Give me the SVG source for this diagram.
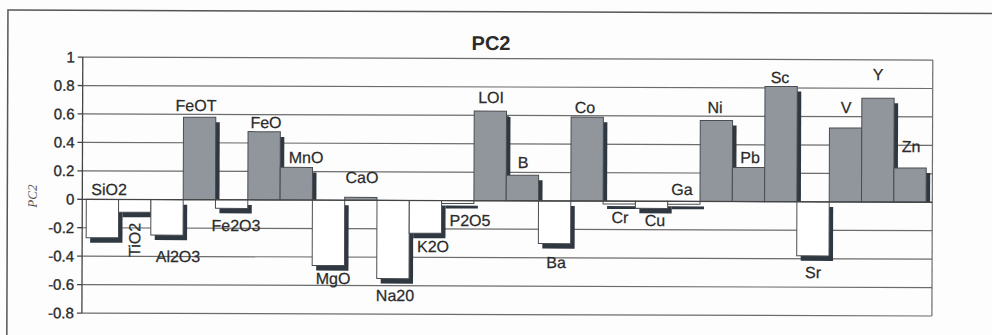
<svg xmlns="http://www.w3.org/2000/svg" width="992" height="335" viewBox="0 0 992 335">
<style>
.grid{stroke:#6c6c6c;stroke-width:1.2;fill:none}
.axis{stroke:#444;stroke-width:1.3;fill:none}
.pos{fill:#90969c;stroke:#4a4d52;stroke-width:1}
.neg{fill:#ffffff;stroke:#4a4d52;stroke-width:1}
.sh{fill:#2f3841}
.lbl{font-family:"Liberation Sans",Arial,sans-serif;font-size:16px;fill:#2b2b2b;text-anchor:middle;stroke:#2b2b2b;stroke-width:0.25}
.tick{font-family:"Liberation Sans",Arial,sans-serif;font-size:15px;fill:#2b2b2b;text-anchor:end;stroke:#2b2b2b;stroke-width:0.35}
.title{font-family:"Liberation Sans",Arial,sans-serif;font-size:20px;font-weight:bold;fill:#2b2b2b;text-anchor:middle}
.ytitle{font-family:"Liberation Serif","Times New Roman",serif;font-size:13px;font-style:italic;fill:#555;text-anchor:middle}
</style>
<rect x="0" y="0" width="992" height="335" fill="#fdfdfd"/>
<g transform="rotate(0.2)">
<rect x="8" y="10" width="1200" height="500" fill="none" stroke="#555" stroke-width="1.5"/>
<text class="title" x="491.2" y="48.3">PC2</text>
<text class="ytitle" transform="translate(37.5,196) rotate(-90)">PC2</text>
<g id="gridlines">
<line class="grid" x1="83" y1="56.8" x2="933" y2="56.8"/>
<line class="grid" x1="83" y1="85.24" x2="933" y2="85.24"/>
<line class="grid" x1="83" y1="113.68" x2="933" y2="113.68"/>
<line class="grid" x1="83" y1="142.12" x2="933" y2="142.12"/>
<line class="grid" x1="83" y1="170.56" x2="933" y2="170.56"/>
<line class="grid" x1="83" y1="227.44" x2="933" y2="227.44"/>
<line class="grid" x1="83" y1="255.88" x2="933" y2="255.88"/>
<line class="grid" x1="83" y1="284.32" x2="933" y2="284.32"/>
<line class="grid" x1="83" y1="312.76" x2="933" y2="312.76"/>
<line class="grid" x1="933" y1="56.8" x2="933" y2="312.76"/>
</g>
<g id="yaxis">
<line class="axis" x1="83" y1="56.8" x2="83" y2="312.76"/>
<path class="axis" d="M78 56.8H83M78 85.24H83M78 113.68H83M78 142.12H83M78 170.56H83M78 199H83M78 227.44H83M78 255.88H83M78 284.32H83M78 312.76H83"/>
<text class="tick" x="75" y="62.1">1</text>
<text class="tick" x="75" y="90.5">0.8</text>
<text class="tick" x="75" y="119">0.6</text>
<text class="tick" x="75" y="147.4">0.4</text>
<text class="tick" x="75" y="175.9">0.2</text>
<text class="tick" x="75" y="204.3">0</text>
<text class="tick" x="75" y="232.7">-0.2</text>
<text class="tick" x="75" y="261.2">-0.4</text>
<text class="tick" x="75" y="289.6">-0.6</text>
<text class="tick" x="75" y="318">-0.8</text>
</g>
<g id="bar-SiO2"><rect class="sh" x="91" y="204" width="32.3" height="38.39"/><rect class="neg" x="87" y="199" width="32.3" height="38.39"/><text class="lbl" x="109.7" y="194.6">SiO2</text></g>
<g id="bar-TiO2"><rect class="sh" x="123.3" y="204" width="32.3" height="12.8"/><rect class="neg" x="119.3" y="199" width="32.3" height="12.8"/><text class="lbl" transform="translate(141,239.5) rotate(-90)">TiO2</text></g>
<g id="bar-Al2O3"><rect class="sh" x="155.6" y="204" width="32.3" height="35.55"/><rect class="neg" x="151.6" y="199" width="32.3" height="35.55"/><text class="lbl" x="178.9" y="261.4">Al2O3</text></g>
<g id="bar-FeOT"><rect class="sh" x="187.9" y="121.52" width="32.3" height="77.48"/><rect class="pos" x="183.9" y="116.52" width="32.3" height="82.48"/><text class="lbl" x="196.4" y="110.3">FeOT</text></g>
<g id="bar-Fe2O3"><rect class="sh" x="220.2" y="204" width="32.3" height="8.53"/><rect class="neg" x="216.2" y="199" width="32.3" height="8.53"/><text class="lbl" x="236.8" y="230.2">Fe2O3</text></g>
<g id="bar-FeO"><rect class="sh" x="252.5" y="135.74" width="32.3" height="63.26"/><rect class="pos" x="248.5" y="130.74" width="32.3" height="68.26"/><text class="lbl" x="266.4" y="127.1">FeO</text></g>
<g id="bar-MnO"><rect class="sh" x="284.8" y="171.29" width="32.3" height="27.71"/><rect class="pos" x="280.8" y="166.29" width="32.3" height="32.71"/><text class="lbl" x="306.6" y="161.9">MnO</text></g>
<g id="bar-MgO"><rect class="sh" x="317.1" y="204" width="32.3" height="65.41"/><rect class="neg" x="313.1" y="199" width="32.3" height="65.41"/><text class="lbl" x="334" y="282.8">MgO</text></g>
<g id="bar-CaO"><rect class="pos" x="345.4" y="196.16" width="32.3" height="2.84"/><text class="lbl" x="362.6" y="181.7">CaO</text></g>
<g id="bar-Na2O"><rect class="sh" x="381.7" y="204" width="32.3" height="78.21"/><rect class="neg" x="377.7" y="199" width="32.3" height="78.21"/><text class="lbl" x="396" y="299.6">Na20</text></g>
<g id="bar-K2O"><rect class="sh" x="414" y="204" width="32.3" height="32.71"/><rect class="neg" x="410" y="199" width="32.3" height="32.71"/><text class="lbl" x="433.9" y="250.5">K2O</text></g>
<g id="bar-P2O5"><rect class="sh" x="446.3" y="204" width="32.3" height="2.84"/><rect class="neg" x="442.3" y="199" width="32.3" height="2.84"/><text class="lbl" x="470.8" y="224.4">P2O5</text></g>
<g id="bar-LOI"><rect class="sh" x="478.6" y="114.41" width="32.3" height="84.59"/><rect class="pos" x="474.6" y="109.41" width="32.3" height="89.59"/><text class="lbl" x="491.4" y="101.3">LOI</text></g>
<g id="bar-B"><rect class="sh" x="510.9" y="178.4" width="32.3" height="20.6"/><rect class="pos" x="506.9" y="173.4" width="32.3" height="25.6"/><text class="lbl" x="523.6" y="166.2">B</text></g>
<g id="bar-Ba"><rect class="sh" x="543.2" y="204" width="32.3" height="42.66"/><rect class="neg" x="539.2" y="199" width="32.3" height="42.66"/><text class="lbl" x="557" y="266.1">Ba</text></g>
<g id="bar-Co"><rect class="sh" x="575.5" y="120.1" width="32.3" height="78.9"/><rect class="pos" x="571.5" y="115.1" width="32.3" height="83.9"/><text class="lbl" x="585.4" y="111">Co</text></g>
<g id="bar-Cr"><rect class="sh" x="607.8" y="204" width="32.3" height="2.84"/><rect class="neg" x="603.8" y="199" width="32.3" height="2.84"/><text class="lbl" x="620.8" y="220.8">Cr</text></g>
<g id="bar-Cu"><rect class="sh" x="640.1" y="204" width="32.3" height="7.11"/><rect class="neg" x="636.1" y="199" width="32.3" height="7.11"/><text class="lbl" x="655.8" y="223.7">Cu</text></g>
<g id="bar-Ga"><rect class="sh" x="672.4" y="204" width="32.3" height="2.84"/><rect class="neg" x="668.4" y="199" width="32.3" height="2.84"/><text class="lbl" x="682.7" y="192.6">Ga</text></g>
<g id="bar-Ni"><rect class="sh" x="704.7" y="122.95" width="32.3" height="76.05"/><rect class="pos" x="700.7" y="117.95" width="32.3" height="81.05"/><text class="lbl" x="715.4" y="110.5">Ni</text></g>
<g id="bar-Pb"><rect class="sh" x="737" y="169.87" width="32.3" height="29.13"/><rect class="pos" x="733" y="164.87" width="32.3" height="34.13"/><text class="lbl" x="750.6" y="160.4">Pb</text></g>
<g id="bar-Sc"><rect class="sh" x="769.3" y="88.82" width="32.3" height="110.18"/><rect class="pos" x="765.3" y="83.82" width="32.3" height="115.18"/><text class="lbl" x="780.3" y="80.3">Sc</text></g>
<g id="bar-Sr"><rect class="sh" x="801.6" y="204" width="32.3" height="54.04"/><rect class="neg" x="797.6" y="199" width="32.3" height="54.04"/><text class="lbl" x="814" y="275.2">Sr</text></g>
<g id="bar-V"><rect class="sh" x="833.9" y="130.06" width="32.3" height="68.94"/><rect class="pos" x="829.9" y="125.06" width="32.3" height="73.94"/><text class="lbl" x="846.4" y="110">V</text></g>
<g id="bar-Y"><rect class="sh" x="866.2" y="100.19" width="32.3" height="98.81"/><rect class="pos" x="862.2" y="95.19" width="32.3" height="103.81"/><text class="lbl" x="878.3" y="76.9">Y</text></g>
<g id="bar-Zn"><rect class="sh" x="898.5" y="169.87" width="32.3" height="29.13"/><rect class="pos" x="894.5" y="164.87" width="32.3" height="34.13"/><text class="lbl" x="911.5" y="148.8">Zn</text></g>
<line class="axis" x1="83" y1="199" x2="933" y2="199"/>
</g>
</svg>
